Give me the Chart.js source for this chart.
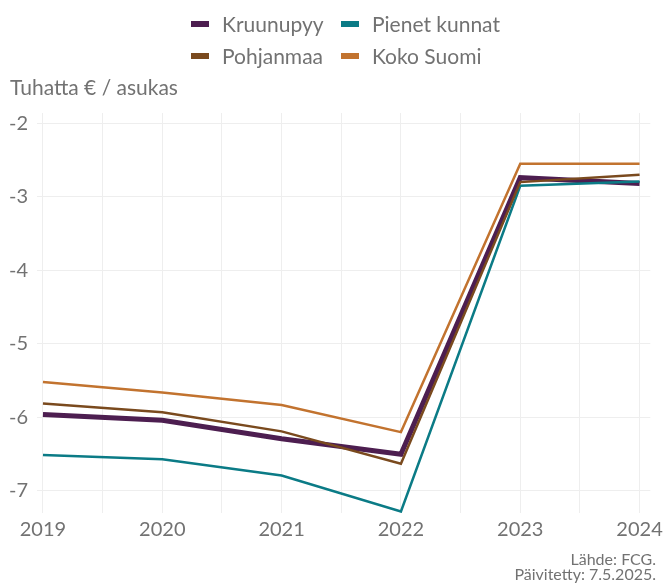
<!DOCTYPE html>
<html>
<head>
<meta charset="utf-8">
<script src="https://cdn.jsdelivr.net/npm/chart.js@4"></script>
<style>
  html, body { margin: 0; padding: 0; background: #fff; }
  #wrap { width: 668px; height: 583px; }
</style>
</head>
<body>
<div id="wrap"><canvas id="chart" width="668" height="583"></canvas></div>
<script>
// data (tuhatta € / asukas)
const years = [2019, 2020, 2021, 2022, 2023, 2024];
const kruunupyy = [-5.96, -6.04, -6.29, -6.50, -2.74, -2.82];
const pienetKunnat = [-6.51, -6.57, -6.79, -7.28, -2.85, -2.79];
const pohjanmaa = [-5.81, -5.93, -6.19, -6.63, -2.80, -2.70];
const kokoSuomi = [-5.52, -5.66, -5.83, -6.20, -2.55, -2.55];

const yTicks = [-7, -6, -5, -4, -3, -2];
const xTicks = [2019, 2019.5, 2020, 2020.5, 2021, 2021.5, 2022, 2022.5, 2023, 2023.5, 2024];

const yTitle = 'Tuhatta € / asukas';
const captionLines = ['Lähde: FCG.', 'Päivitetty: 7.5.2025.'];

const textColor = '#727272';
const gridColor = '#eeeeee';
const fontFamily = 'Lato, "Open Sans", sans-serif';

const toPoints = (arr) => arr.map((v, i) => ({ x: years[i], y: v }));

const makeDataset = (label, values, color, width, order) => ({
	label: label,
	data: toPoints(values),
	borderColor: color,
	backgroundColor: color,
	borderWidth: width,
	pointRadius: 0,
	tension: 0,
	order: order,
});

const datasets = [
	makeDataset('Kruunupyy', kruunupyy, '#4d1e50', 5, 4),
	makeDataset('Pienet kunnat', pienetKunnat, '#0b7b86', 2.5, 3),
	makeDataset('Pohjanmaa', pohjanmaa, '#7a4a1e', 2.5, 2),
	makeDataset('Koko Suomi', kokoSuomi, '#c2732f', 2.5, 1),
];

// legend in two aligned columns, y-axis title and source caption
const extraText = {
	id: 'extraText',
	afterDraw(chart) {
		const ctx = chart.ctx;
		ctx.save();
		ctx.fillStyle = textColor;
		ctx.textBaseline = 'alphabetic';

		// legend
		ctx.font = '21px ' + fontFamily;
		const colX = [191, 341];
		const rowBase = [31.5, 63.5];
		datasets.forEach((ds, i) => {
			const x = colX[i % 2];
			const yb = rowBase[Math.floor(i / 2)];
			ctx.fillStyle = ds.borderColor;
			ctx.fillRect(x, yb - 10.5, 18, 6);
			ctx.fillStyle = textColor;
			ctx.textAlign = 'left';
			ctx.fillText(ds.label, x + 31, yb);
		});

		// axis title
		ctx.font = '21px ' + fontFamily;
		ctx.textAlign = 'left';
		ctx.fillText(yTitle, 10, 95);

		// caption
		ctx.font = '16px ' + fontFamily;
		ctx.textAlign = 'right';
		ctx.fillText(captionLines[0], 656, 565);
		ctx.fillText(captionLines[1], 656, 580);
		ctx.restore();
	},
};

const ctx = document.getElementById('chart');

new Chart(ctx, {
	type: 'line',
	data: { datasets: datasets },
	plugins: [extraText],
	options: {
		responsive: false,
		animation: false,
		layout: {
			padding: { top: 113, right: 13, bottom: 38, left: 0 },
		},
		plugins: {
			legend: { display: false },
			tooltip: { enabled: false },
		},
		scales: {
			x: {
				type: 'linear',
				min: 2018.95,
				max: 2024.09,
				afterBuildTicks: (s) => { s.ticks = xTicks.map((v) => ({ value: v })); },
				afterFit: (s) => { s.height = 32; },
				border: { display: false },
				grid: { color: gridColor, lineWidth: 1, drawTicks: false },
				ticks: {
					color: textColor,
					font: { family: fontFamily, size: 20 },
					padding: 5,
					maxRotation: 0,
					autoSkip: false,
					callback: (v) => (Number.isInteger(v) ? String(v) : ''),
				},
			},
			y: {
				min: -7.3,
				max: -1.86,
				afterBuildTicks: (s) => { s.ticks = yTicks.map((v) => ({ value: v })); },
				afterFit: (s) => { s.width = 37; },
				border: { display: false },
				grid: { color: gridColor, lineWidth: 1, drawTicks: false },
				ticks: {
					color: textColor,
					font: { family: fontFamily, size: 20 },
					padding: 9,
					callback: (v) => String(v),
				},
			},
		},
	},
});
</script>
</body>
</html>
